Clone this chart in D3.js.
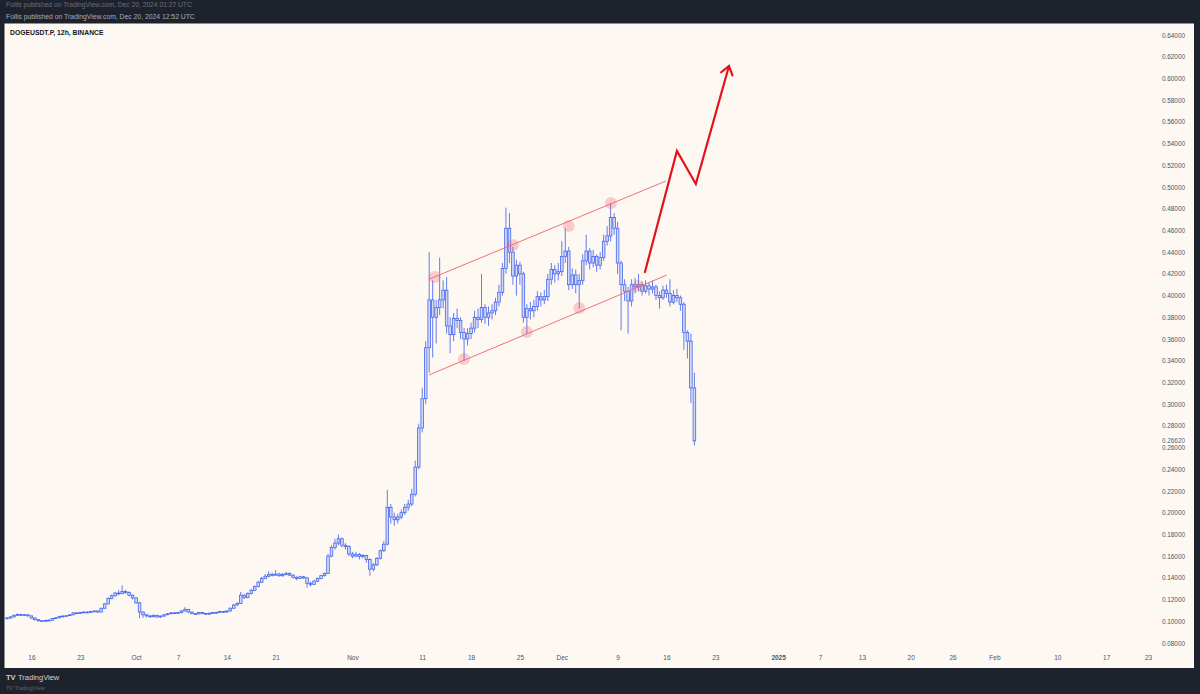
<!DOCTYPE html>
<html><head><meta charset="utf-8">
<script src="https://cdn.jsdelivr.net/npm/d3@7"></script>
<style>html,body{margin:0;padding:0;background:#1e222d;overflow:hidden}svg{display:block}</style>
</head><body>
<svg id="chart" width="1200" height="694"></svg>
<script>
// ---------- DATA ----------
const symbolTitle = "DOGEUSDT.P, 12h, BINANCE";
const publishLine = "Follis published on TradingView.com, Dec 20, 2024 12:52 UTC";
const publishGhost = "Follis published on TradingView.com, Dec 20, 2024 01:27 UTC";
const brandText = "TradingView";

const firstBarTime = "2024-09-12T12:00:00Z";
const barHours = 12;
const firstOpen = 0.1025;
const closes = [
0.1030,0.1040,0.1055,0.1062,0.1058,0.1060,0.1050,0.1030,0.1015,0.1005,
0.1000,0.1008,0.1010,0.1025,0.1032,0.1045,0.1048,0.1052,0.1060,0.1078,
0.1072,0.1080,0.1085,0.1082,0.1090,0.1095,0.1085,0.1120,0.1160,0.1210,
0.1235,0.1260,0.1255,0.1275,0.1265,0.1240,0.1215,0.1170,0.1085,0.1060,
0.1050,0.1042,0.1055,0.1040,0.1048,0.1060,0.1070,0.1078,0.1075,0.1080,
0.1095,0.1110,0.1085,0.1070,0.1068,0.1080,0.1072,0.1065,0.1075,0.1080,
0.1082,0.1090,0.1085,0.1095,0.1120,0.1150,0.1165,0.1240,0.1220,0.1255,
0.1285,0.1320,0.1360,0.1395,0.1415,0.1430,0.1425,0.1435,0.1420,0.1432,
0.1440,0.1425,0.1405,0.1395,0.1410,0.1400,0.1350,0.1340,0.1370,0.1395,
0.1420,0.1440,0.1600,0.1680,0.1720,0.1760,0.1700,0.1690,0.1620,0.1600,
0.1615,0.1598,0.1605,0.1570,0.1480,0.1520,0.1580,0.1650,0.1710,0.2050,
0.1960,0.1935,0.1960,0.2000,0.2050,0.2080,0.2170,0.2420,0.2780,0.3050,
0.3520,0.3960,0.3800,0.3890,0.3960,0.4050,0.3720,0.3640,0.3790,0.3770,
0.3660,0.3600,0.3650,0.3700,0.3800,0.3780,0.3890,0.3800,0.3840,0.3860,
0.3940,0.4030,0.4250,0.4620,0.4400,0.4180,0.4280,0.4200,0.3800,0.3880,
0.3860,0.3900,0.3990,0.3960,0.3990,0.4150,0.4240,0.4200,0.4220,0.4360,
0.4410,0.4100,0.4190,0.4100,0.4140,0.4320,0.4410,0.4300,0.4360,0.4280,
0.4350,0.4500,0.4550,0.4720,0.4620,0.4300,0.4100,0.4040,0.3950,0.4100,
0.4080,0.4100,0.4040,0.4090,0.4060,0.4080,0.4000,0.3980,0.4050,0.4020,
0.3940,0.4000,0.3980,0.3920,0.3660,0.3580,0.3150,0.2662];
const highs = [
0.1040,0.1048,0.1062,0.1072,0.1068,0.1066,0.1064,0.1052,0.1034,0.1020,
0.1012,0.1014,0.1018,0.1030,0.1038,0.1050,0.1056,0.1058,0.1066,0.1084,
0.1082,0.1088,0.1092,0.1090,0.1096,0.1100,0.1098,0.1126,0.1168,0.1220,
0.1248,0.1272,0.1290,0.1330,0.1290,0.1276,0.1248,0.1222,0.1178,0.1092,
0.1068,0.1058,0.1062,0.1060,0.1054,0.1066,0.1076,0.1084,0.1084,0.1086,
0.1102,0.1130,0.1114,0.1090,0.1076,0.1086,0.1084,0.1078,0.1080,0.1086,
0.1088,0.1096,0.1094,0.1102,0.1128,0.1160,0.1176,0.1270,0.1250,0.1266,
0.1300,0.1330,0.1372,0.1410,0.1436,0.1460,0.1448,0.1470,0.1446,0.1446,
0.1456,0.1450,0.1432,0.1414,0.1420,0.1418,0.1408,0.1366,0.1378,0.1402,
0.1428,0.1450,0.1620,0.1700,0.1760,0.1800,0.1772,0.1720,0.1700,0.1640,
0.1640,0.1630,0.1620,0.1612,0.1580,0.1540,0.1590,0.1660,0.1740,0.2210,
0.2080,0.2000,0.1990,0.2030,0.2080,0.2120,0.2220,0.2480,0.2820,0.3150,
0.3580,0.4400,0.4140,0.3960,0.4350,0.4140,0.4170,0.3800,0.3840,0.3880,
0.3800,0.3700,0.3700,0.3750,0.3860,0.3880,0.4200,0.3920,0.3900,0.3920,
0.3980,0.4100,0.4300,0.4810,0.4760,0.4450,0.4330,0.4310,0.4220,0.3920,
0.3940,0.3960,0.4040,0.4030,0.4050,0.4200,0.4300,0.4280,0.4300,0.4500,
0.4620,0.4450,0.4250,0.4240,0.4200,0.4380,0.4560,0.4440,0.4420,0.4380,
0.4400,0.4560,0.4640,0.4850,0.4760,0.4680,0.4320,0.4150,0.4080,0.4150,
0.4160,0.4200,0.4130,0.4140,0.4120,0.4140,0.4100,0.4040,0.4090,0.4100,
0.4150,0.4050,0.4060,0.4000,0.3940,0.3680,0.3650,0.3290];
const lows = [
0.1022,0.1026,0.1036,0.1050,0.1050,0.1050,0.1044,0.1024,0.1008,0.0998,
0.0994,0.0996,0.1002,0.1006,0.1022,0.1028,0.1040,0.1042,0.1048,0.1056,
0.1066,0.1068,0.1076,0.1076,0.1078,0.1084,0.1080,0.1082,0.1116,0.1156,
0.1202,0.1228,0.1240,0.1250,0.1252,0.1230,0.1200,0.1160,0.1030,0.1032,
0.1036,0.1030,0.1036,0.1032,0.1034,0.1042,0.1056,0.1064,0.1068,0.1070,
0.1074,0.1090,0.1080,0.1064,0.1058,0.1064,0.1066,0.1058,0.1060,0.1070,
0.1074,0.1078,0.1078,0.1082,0.1090,0.1116,0.1142,0.1160,0.1205,0.1212,
0.1246,0.1278,0.1312,0.1352,0.1388,0.1404,0.1412,0.1418,0.1410,0.1410,
0.1424,0.1416,0.1396,0.1378,0.1388,0.1390,0.1310,0.1320,0.1334,0.1362,
0.1388,0.1412,0.1436,0.1590,0.1660,0.1700,0.1680,0.1660,0.1600,0.1580,
0.1590,0.1570,0.1580,0.1540,0.1420,0.1460,0.1510,0.1570,0.1640,0.1700,
0.1900,0.1880,0.1900,0.1940,0.1980,0.2020,0.2060,0.2150,0.2400,0.2740,
0.3000,0.3290,0.3430,0.3560,0.3820,0.3880,0.3650,0.3470,0.3580,0.3700,
0.3600,0.3400,0.3540,0.3600,0.3660,0.3700,0.3750,0.3740,0.3720,0.3780,
0.3820,0.3900,0.4000,0.4200,0.4300,0.4100,0.4000,0.4100,0.3750,0.3650,
0.3780,0.3800,0.3860,0.3900,0.3920,0.3950,0.4100,0.4120,0.4140,0.4180,
0.4300,0.4050,0.4060,0.4020,0.3880,0.4100,0.4280,0.4240,0.4260,0.4220,
0.4240,0.4320,0.4460,0.4500,0.4560,0.4200,0.3680,0.3950,0.3650,0.3900,
0.4020,0.4040,0.4000,0.4020,0.4000,0.4020,0.3960,0.3880,0.3960,0.3980,
0.3900,0.3920,0.3940,0.3860,0.3500,0.3420,0.3010,0.2620];
const lastPrice = 0.2662;

const yTickValues = [0.08,0.10,0.12,0.14,0.16,0.18,0.20,0.22,0.24,0.26,0.28,0.30,0.32,0.34,
  0.36,0.38,0.40,0.42,0.44,0.46,0.48,0.50,0.52,0.54,0.56,0.58,0.60,0.62,0.64];
const xTickDates = ["2024-09-16","2024-09-23","2024-10-01","2024-10-07","2024-10-14","2024-10-21",
  "2024-11-01","2024-11-11","2024-11-18","2024-11-25","2024-12-01","2024-12-09","2024-12-16",
  "2024-12-23","2025-01-01","2025-01-07","2025-01-13","2025-01-20","2025-01-26","2025-02-01",
  "2025-02-10","2025-02-17","2025-02-23"];
const xTickLabels = ["16","23","Oct","7","14","21","Nov","11","18","25","Dec","9","16","23",
  "2025","7","13","20","26","Feb","10","17","23"];
const xDomain = ["2024-09-16","2025-02-23"];
const yDomain = [0.08, 0.64];

// drawings (time, price)
const channelUpper = [["2024-11-11T23:00:00Z",0.4150],["2024-12-15T22:00:00Z",0.5055]];
const channelLower = [["2024-11-11T23:00:00Z",0.3268],["2024-12-16T01:00:00Z",0.4189]];
const touchPoints = [
  ["2024-11-12T19:00:00Z",0.4171],["2024-11-24T00:00:00Z",0.4466],["2024-12-02T00:00:00Z",0.4641],
  ["2024-12-08T01:00:00Z",0.4853],["2024-11-16T23:30:00Z",0.3416],["2024-11-26T00:00:00Z",0.3664],
  ["2024-12-03T12:00:00Z",0.3886],["2024-12-11T22:00:00Z",0.4088]];
const forecastPath = [["2024-12-12T22:00:00Z",0.4217],["2024-12-17T12:00:00Z",0.5332],
  ["2024-12-20T05:00:00Z",0.5028],["2024-12-24T23:00:00Z",0.6114]];

// ---------- LAYOUT ----------
const W = 1200, H = 694;
const panel = {x0: 4.5, x1: 1194, y0: 23.5, y1: 668};
const C = {
  dark: "#1e222d", bg: "#fdf8f2", text: "#50535e", head: "#a9acb5",
  candle: "#4566f0", candleFill: "rgba(69,102,240,0.22)",
  channel: "#f0707c", touch: "rgba(242,90,105,0.28)", arrow: "#e3121c"
};
const FONT = "'Liberation Sans', Arial, sans-serif";

const svg = d3.select("#chart");
svg.append("rect").attr("width", W).attr("height", H).attr("fill", C.dark);

// header texts
svg.append("text").attr("x", 6).attr("y", 7).attr("font-family", FONT).attr("font-size", 6.7)
  .attr("fill", C.head).attr("opacity", 0.55).text(publishGhost);
svg.append("text").attr("x", 6).attr("y", 19).attr("font-family", FONT).attr("font-size", 6.8)
  .attr("fill", C.head).text(publishLine);

// panel
svg.append("rect").attr("x", panel.x0).attr("y", panel.y0)
  .attr("width", panel.x1 - panel.x0).attr("height", panel.y1 - panel.y0).attr("fill", C.bg);

svg.append("defs").append("clipPath").attr("id", "clip").append("rect")
  .attr("x", panel.x0).attr("y", panel.y0).attr("width", panel.x1 - panel.x0).attr("height", panel.y1 - panel.y0);

const parse = s => new Date(s.length === 10 ? s + "T00:00:00Z" : s);
const x = d3.scaleUtc().domain(xDomain.map(parse)).range([31.4, 1148]);
const y = d3.scaleLinear().domain(yDomain).range([643, 35]);

// symbol title
svg.append("text").attr("x", 10).attr("y", 34.5).attr("font-family", FONT).attr("font-size", 6.8)
  .attr("font-weight", 600).attr("fill", "#131722").text(symbolTitle);

// axes
const yAxis = d3.axisLeft(y).tickValues(yTickValues).tickFormat(d3.format(".5f")).tickSize(0).tickPadding(0);
const gy = svg.append("g").attr("transform", `translate(1185,0)`).call(yAxis);
gy.select(".domain").remove();
gy.selectAll("text").attr("font-family", FONT).attr("font-size", 6.4).attr("fill", C.text);

const xAxis = d3.axisBottom(x).tickValues(xTickDates.map(parse))
  .tickFormat((d, i) => xTickLabels[i]).tickSize(0).tickPadding(0);
const gx = svg.append("g").attr("transform", `translate(0,655)`).call(xAxis);
gx.select(".domain").remove();
gx.selectAll("text").attr("font-family", FONT).attr("font-size", 6.5).attr("fill", C.text)
  .attr("font-weight", (d, i) => xTickLabels[i] === "2025" ? 700 : 400);

// last price label
const lp = svg.append("g");
lp.append("rect").attr("x", 1160).attr("y", y(lastPrice) - 4).attr("width", 28).attr("height", 8).attr("fill", "#ffffff");
lp.append("text").attr("x", 1185).attr("y", y(lastPrice)).attr("dy", "0.35em").attr("text-anchor", "end")
  .attr("font-family", FONT).attr("font-size", 6.4).attr("fill", C.text).text(d3.format(".5f")(lastPrice));

// candles
const t0 = parse(firstBarTime).getTime();
const bars = closes.map((c, i) => ({
  t: new Date(t0 + i * barHours * 3600e3),
  o: i === 0 ? firstOpen : closes[i - 1], h: highs[i], l: lows[i], c
}));
const plot = svg.append("g").attr("clip-path", "url(#clip)");
const bw = 2.6;
const cg = plot.append("g");
cg.selectAll("line.wick").data(bars).join("line").attr("class", "wick")
  .attr("x1", d => x(d.t)).attr("x2", d => x(d.t))
  .attr("y1", d => y(d.h)).attr("y2", d => Math.min(y(d.o), y(d.c)))
  .attr("stroke", C.candle).attr("stroke-width", 0.85);
cg.selectAll("line.wick2").data(bars).join("line").attr("class", "wick2")
  .attr("x1", d => x(d.t)).attr("x2", d => x(d.t))
  .attr("y1", d => Math.max(y(d.o), y(d.c))).attr("y2", d => y(d.l))
  .attr("stroke", C.candle).attr("stroke-width", 0.85);
cg.selectAll("rect.body").data(bars).join("rect").attr("class", "body")
  .attr("x", d => x(d.t) - bw / 2).attr("width", bw)
  .attr("y", d => Math.min(y(d.o), y(d.c)))
  .attr("height", d => Math.max(0.8, Math.abs(y(d.o) - y(d.c))))
  .attr("fill", C.candleFill).attr("stroke", C.candle).attr("stroke-width", 0.8);

// channel
const line = d3.line().x(d => x(parse(d[0]))).y(d => y(d[1]));
[channelUpper, channelLower].forEach(ch =>
  plot.append("path").attr("d", line(ch)).attr("fill", "none").attr("stroke", C.channel).attr("stroke-width", 1));
plot.selectAll("circle.touch").data(touchPoints).join("circle").attr("class", "touch")
  .attr("cx", d => x(parse(d[0]))).attr("cy", d => y(d[1])).attr("r", 6).attr("fill", C.touch);

// forecast arrow
plot.append("path").attr("d", line(forecastPath)).attr("fill", "none").attr("stroke", C.arrow)
  .attr("stroke-width", 2.2).attr("stroke-linejoin", "miter").attr("stroke-linecap", "round");
const pA = forecastPath[forecastPath.length - 2], pB = forecastPath[forecastPath.length - 1];
const ax = x(parse(pB[0])), ay = y(pB[1]);
const ang = Math.atan2(ay - y(pA[1]), ax - x(parse(pA[0])));
const hl = 10, spread = Math.PI / 5;
plot.append("path")
  .attr("d", `M${ax - hl * Math.cos(ang - spread)},${ay - hl * Math.sin(ang - spread)}L${ax},${ay}L${ax - hl * Math.cos(ang + spread)},${ay - hl * Math.sin(ang + spread)}`)
  .attr("fill", "none").attr("stroke", C.arrow).attr("stroke-width", 2.2).attr("stroke-linecap", "round").attr("stroke-linejoin", "miter");

// bottom brand
svg.append("text").attr("x", 6).attr("y", 680).attr("font-family", FONT).attr("font-size", 7.5)
  .attr("font-weight", 700).attr("fill", "#d1d4dc").text("TV");
svg.append("text").attr("x", 18).attr("y", 680).attr("font-family", FONT).attr("font-size", 7.5)
  .attr("fill", "#d1d4dc").text(brandText);
svg.append("text").attr("x", 6).attr("y", 690).attr("font-family", FONT).attr("font-size", 5.5)
  .attr("fill", "#d1d4dc").attr("opacity", 0.35).text("TV " + brandText);
</script>
</body></html>
